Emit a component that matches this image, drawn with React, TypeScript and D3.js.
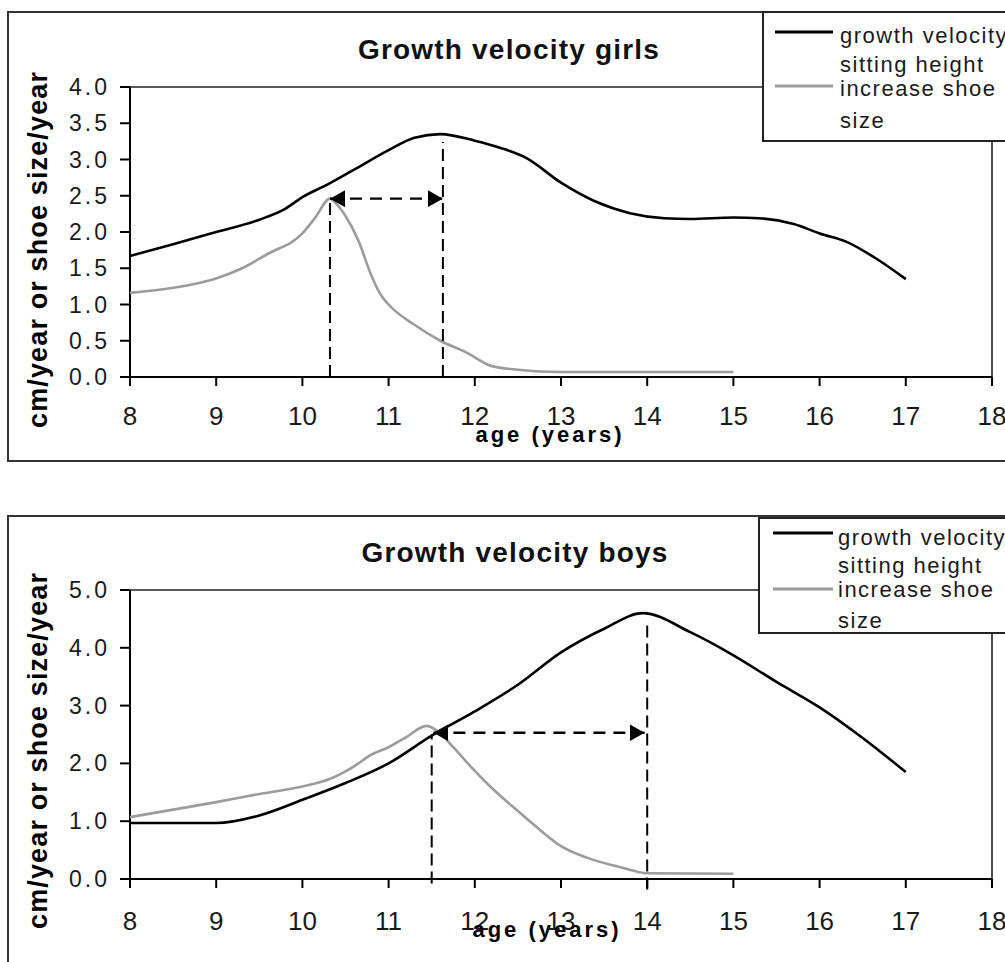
import { useRef, useEffect } from 'react'
import * as d3 from 'd3'

const xTicks = [8, 9, 10, 11, 12, 13, 14, 15, 16, 17, 18]

// girls: [age, value]
const girlsYTicks = [0, 0.5, 1, 1.5, 2, 2.5, 3, 3.5, 4]
const girlsSitting: [number, number][] = [
  [8, 1.67], [8.5, 1.83], [9, 2.0], [9.5, 2.17], [9.8, 2.32], [10, 2.48], [10.3, 2.66],
  [10.6, 2.86], [11, 3.13], [11.3, 3.3], [11.6, 3.35], [12, 3.26], [12.3, 3.16], [12.6, 3.02],
  [13, 2.68], [13.4, 2.42], [13.8, 2.26], [14.2, 2.19], [14.5, 2.18], [15, 2.2], [15.3, 2.19],
  [15.7, 2.11], [16, 1.98], [16.3, 1.87], [16.7, 1.6], [17, 1.35],
]
const girlsShoe: [number, number][] = [
  [8, 1.16], [8.5, 1.23], [9, 1.36], [9.3, 1.5], [9.6, 1.7], [10, 1.98], [10.15, 2.2],
  [10.32, 2.46], [10.4, 2.38], [10.5, 2.22], [10.65, 1.88], [10.8, 1.4], [10.9, 1.15],
  [11, 1.0], [11.3, 0.72], [11.6, 0.5], [11.9, 0.34], [12.2, 0.15], [12.5, 0.1], [13, 0.07],
  [14, 0.07], [15, 0.07],
]

// boys: [age, value]
const boysYTicks = [0, 1, 2, 3, 4, 5]
const boysSitting: [number, number][] = [
  [8, 0.97], [9, 0.97], [9.5, 1.1], [10, 1.37], [10.5, 1.66], [11, 2.0], [11.5, 2.48],
  [12, 2.9], [12.5, 3.36], [13, 3.92], [13.5, 4.33], [13.95, 4.6], [14.5, 4.27], [15, 3.87],
  [15.5, 3.41], [16, 2.97], [16.5, 2.44], [17, 1.85],
]
const boysShoe: [number, number][] = [
  [8, 1.07], [8.5, 1.2], [9, 1.33], [9.5, 1.47], [10, 1.6], [10.3, 1.72], [10.6, 1.95],
  [10.8, 2.15], [11, 2.28], [11.2, 2.45], [11.44, 2.65], [11.6, 2.52], [11.75, 2.28],
  [12, 1.87], [12.2, 1.57], [12.45, 1.24], [12.7, 0.92], [13, 0.57], [13.3, 0.37],
  [13.7, 0.2], [14, 0.1], [15, 0.09],
]

// peak markers: [age, from value, to value]
const girlsPeakLines: [number, number, number][] = [[10.32, 0, 2.46], [11.63, 0, 3.24]]
const girlsArrow = { from: 10.32, to: 11.63, value: 2.46 }
const boysPeakLines: [number, number, number][] = [[11.5, -0.08, 2.5], [14.0, -0.18, 4.48]]
const boysArrow = { from: 11.52, to: 13.97, value: 2.53 }

const legendLines = [['growth velocity', 'sitting height'], ['increase shoe', 'size']]

const FONT = '"Liberation Sans", Arial, sans-serif'
const GRAY = '#9c9c9c'
const INK = '#1a1a1a'

const panels = [
  {
    id: 'girls',
    title: 'Growth velocity girls',
    sitting: girlsSitting,
    shoe: girlsShoe,
    yTicks: girlsYTicks,
    yMax: 4,
    peaks: girlsPeakLines,
    arrow: girlsArrow,
    frameTop: 12,
    frameBottom: 461,
    plotTop: 87,
    plotBottom: 377,
    titleX: 509,
    titleY: 59,
    tickLabelY: 425,
    axisTitleX: 550,
    axisTitleY: 442,
    yTitleY: 250,
    legend: { x: 763, top: 12, bottom: 141, lineX: [775, 833], textX: 840, lines: [32, 86], text: [43, 72, 96, 128] },
  },
  {
    id: 'boys',
    title: 'Growth velocity boys',
    sitting: boysSitting,
    shoe: boysShoe,
    yTicks: boysYTicks,
    yMax: 5,
    peaks: boysPeakLines,
    arrow: boysArrow,
    frameTop: 516,
    frameBottom: 990,
    plotTop: 590,
    plotBottom: 879,
    titleX: 515,
    titleY: 562,
    tickLabelY: 930,
    axisTitleX: 547,
    axisTitleY: 937,
    yTitleY: 751,
    legend: { x: 759, top: 518, bottom: 633, lineX: [773, 833], textX: 838, lines: [533, 589], text: [545, 573, 597, 628] },
  },
]

export default function App() {
  const svgRef = useRef<SVGSVGElement>(null)

  useEffect(() => {
    if (!svgRef.current) return
    const svg = d3.select(svgRef.current)
    svg.selectAll('*').remove()

    const defs = svg.append('defs')
    defs
      .append('marker')
      .attr('id', 'head')
      .attr('markerUnits', 'userSpaceOnUse')
      .attr('markerWidth', 16)
      .attr('markerHeight', 18)
      .attr('refX', 15)
      .attr('refY', 8.5)
      .attr('orient', 'auto-start-reverse')
      .append('path')
      .attr('d', 'M0,0 L15,8.5 L0,17 Z')
      .attr('fill', '#000')

    const left = 130
    const right = 992

    panels.forEach((p) => {
      const g = svg.append('g').attr('class', p.id)
      const x = d3.scaleLinear().domain([8, 18]).range([left, right])
      const y = d3.scaleLinear().domain([0, p.yMax]).range([p.plotBottom, p.plotTop])

      // outer frame
      g.append('rect')
        .attr('x', 8)
        .attr('y', p.frameTop)
        .attr('width', 1010)
        .attr('height', p.frameBottom - p.frameTop)
        .attr('fill', '#fff')
        .attr('stroke', '#333')
        .attr('stroke-width', 2)

      // plot area border (top + right)
      g.append('path')
        .attr('d', `M${left},${p.plotTop}H${right}V${p.plotBottom}`)
        .attr('fill', 'none')
        .attr('stroke', '#222')
        .attr('stroke-width', 1.6)

      // x axis
      const xAxis = g.append('g').attr('transform', `translate(0,${p.plotBottom})`)
      xAxis.append('line').attr('x1', left).attr('x2', right).attr('stroke', '#000').attr('stroke-width', 2)
      xAxis
        .selectAll('.xt')
        .data(xTicks)
        .join('line')
        .attr('x1', (d) => x(d))
        .attr('x2', (d) => x(d))
        .attr('y1', 0)
        .attr('y2', 9)
        .attr('stroke', '#000')
        .attr('stroke-width', 2)
      g.selectAll('.xl')
        .data(xTicks)
        .join('text')
        .attr('x', (d) => x(d))
        .attr('y', p.tickLabelY)
        .attr('text-anchor', 'middle')
        .attr('font-family', FONT)
        .attr('font-size', 26)
        .attr('fill', INK)
        .text((d) => d)

      // y axis
      g.append('line')
        .attr('x1', left)
        .attr('x2', left)
        .attr('y1', p.plotTop)
        .attr('y2', p.plotBottom)
        .attr('stroke', '#000')
        .attr('stroke-width', 2)
      g.selectAll('.yt')
        .data(p.yTicks)
        .join('line')
        .attr('x1', left - 10)
        .attr('x2', left)
        .attr('y1', (d) => y(d))
        .attr('y2', (d) => y(d))
        .attr('stroke', '#000')
        .attr('stroke-width', 2)
      g.selectAll('.yl')
        .data(p.yTicks)
        .join('text')
        .attr('x', 110)
        .attr('y', (d) => y(d) + 8)
        .attr('text-anchor', 'end')
        .attr('font-family', FONT)
        .attr('font-size', 23)
        .attr('letter-spacing', 3)
        .attr('fill', INK)
        .text((d) => d3.format('.1f')(d))

      // axis titles
      g.append('text')
        .attr('transform', `translate(47,${p.yTitleY}) rotate(-90)`)
        .attr('text-anchor', 'middle')
        .attr('font-family', FONT)
        .attr('font-weight', 'bold')
        .attr('font-size', 27)
        .attr('textLength', 356)
        .attr('lengthAdjust', 'spacing')
        .attr('fill', '#000')
        .text('cm/year or shoe size/year')
      g.append('text')
        .attr('x', p.axisTitleX)
        .attr('y', p.axisTitleY)
        .attr('text-anchor', 'middle')
        .attr('font-family', FONT)
        .attr('font-weight', 'bold')
        .attr('font-size', 22)
        .attr('letter-spacing', 3)
        .attr('fill', '#000')
        .text('age (years)')

      // title
      g.append('text')
        .attr('x', p.titleX)
        .attr('y', p.titleY)
        .attr('text-anchor', 'middle')
        .attr('font-family', FONT)
        .attr('font-weight', 'bold')
        .attr('font-size', 28)
        .attr('letter-spacing', 1.2)
        .attr('fill', '#111')
        .text(p.title)

      // series
      const line = d3
        .line<[number, number]>()
        .x((d) => x(d[0]))
        .y((d) => y(d[1]))
        .curve(d3.curveMonotoneX)
      g.append('path')
        .attr('d', line(p.sitting))
        .attr('fill', 'none')
        .attr('stroke', '#000')
        .attr('stroke-width', 2.6)
      g.append('path')
        .attr('d', line(p.shoe))
        .attr('fill', 'none')
        .attr('stroke', GRAY)
        .attr('stroke-width', 2.6)

      // peak lines and arrow
      g.selectAll('.peak')
        .data(p.peaks)
        .join('line')
        .attr('x1', (d) => x(d[0]))
        .attr('x2', (d) => x(d[0]))
        .attr('y1', (d) => y(d[1]))
        .attr('y2', (d) => y(d[2]))
        .attr('stroke', '#000')
        .attr('stroke-width', 2)
        .attr('stroke-dasharray', '12,6')
      g.append('line')
        .attr('x1', x(p.arrow.from))
        .attr('x2', x(p.arrow.to))
        .attr('y1', y(p.arrow.value))
        .attr('y2', y(p.arrow.value))
        .attr('stroke', '#000')
        .attr('stroke-width', 2.4)
        .attr('stroke-dasharray', '12,8')
        .attr('marker-start', 'url(#head)')
        .attr('marker-end', 'url(#head)')

      // legend
      const L = p.legend
      const lg = g.append('g')
      lg.append('rect')
        .attr('x', L.x)
        .attr('y', L.top)
        .attr('width', 300)
        .attr('height', L.bottom - L.top)
        .attr('fill', '#fff')
        .attr('stroke', '#222')
        .attr('stroke-width', 2)
      lg.selectAll('.ll')
        .data([ '#000', GRAY ])
        .join('line')
        .attr('x1', L.lineX[0])
        .attr('x2', L.lineX[1])
        .attr('y1', (_, i) => L.lines[i])
        .attr('y2', (_, i) => L.lines[i])
        .attr('stroke', (d) => d)
        .attr('stroke-width', 3)
      lg.selectAll('.lt')
        .data(legendLines.flat())
        .join('text')
        .attr('x', L.textX)
        .attr('y', (_, i) => L.text[i])
        .attr('font-family', FONT)
        .attr('font-size', 22)
        .attr('letter-spacing', 1.5)
        .attr('fill', INK)
        .text((d) => d)
    })
  }, [])

  return (
    <svg
      ref={svgRef}
      width={1005}
      height={962}
      style={{ position: 'absolute', left: 0, top: 0, background: '#fff' }}
    />
  )
}
